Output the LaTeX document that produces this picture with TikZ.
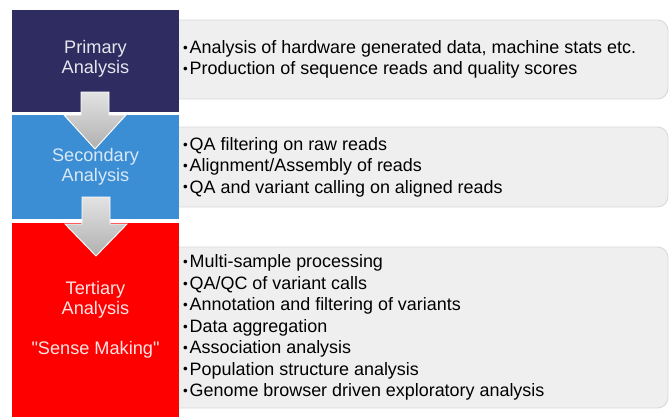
\documentclass[tikz,border=0pt]{standalone}
\usepackage{fontspec}
\setmainfont{Liberation Sans}
\usepackage{graphicx}
\usepackage{tikz}

\definecolor{navy}{HTML}{2E2C60}
\definecolor{skyblue}{HTML}{3B8ED4}
\definecolor{brightred}{HTML}{FE0000}
\definecolor{boxgray}{HTML}{EFEFEF}
\definecolor{boxline}{HTML}{D9D9D9}

\newcommand{\bul}{\raisebox{0.12ex}{\scalebox{0.75}{•}}\hspace{0.1em}}

\tikzset{
  infobox/.style={fill=boxgray, draw=boxline, line width=0.8pt, rounded corners=9pt},
  infotext/.style={anchor=west, align=left, inner sep=0pt, text=black,
    font=\fontsize{15.3}{18.3}\selectfont},
  stagetext/.style={align=center, inner sep=0pt, font=\fontsize{15.5}{17}\selectfont},
  blockarrow/.style={draw=white, line width=0.8pt, top color=gray!22, bottom color=gray!62}
}

\begin{document}
\begin{tikzpicture}[x=0.03cm, y=-0.03cm]
    \useasboundingbox (0,0) rectangle (670,417);

    % grey boxes with the task lists
    \draw[infobox] (160,20) rectangle (668,99);
    \draw[infobox] (160,127) rectangle (668,207);
    \draw[infobox] (160,247) rectangle (668,408);

    % stage column
    \fill[navy] (12,10) rectangle (179,112);
    \fill[skyblue] (12,115) rectangle (179,219);
    \fill[brightred] (12,223) rectangle (179,417);

    \node[stagetext, text=white!88!navy] (prim) at (95.5,59) {Primary\\Analysis};
    \node[stagetext, text=white!80!skyblue] (sec) at (95.5,167) {Secondary\\Analysis};
    \node[stagetext, text=white!90!brightred] (tert) at (95.5,320) {Tertiary\\Analysis\\[\baselineskip]\textquotedbl Sense Making\textquotedbl};

    % arrows between the stages
    \draw[blockarrow] (81,92) -- (109,92) -- (109,115) -- (126,115) -- (95,149) -- (64,115) -- (81,115) -- cycle;
    \draw[blockarrow] (82,197) -- (110,197) -- (110,224) -- (127,224) -- (96,256) -- (65,224) -- (82,224) -- cycle;

    % task lists
    \node[infotext] (primlist) at (183,59.5) {\bul Analysis of hardware generated data, machine stats etc.\\
      \bul Production of sequence reads and quality scores};
    \node[infotext] (seclist) at (183,167) {\bul QA filtering on raw reads\\
      \bul Alignment/Assembly of reads\\
      \bul QA and variant calling on aligned reads};
    \node[infotext] (tertlist) at (183,327.5) {\bul Multi-sample processing\\
      \bul QA/QC of variant calls\\
      \bul Annotation and filtering of variants\\
      \bul Data aggregation\\
      \bul Association analysis\\
      \bul Population structure analysis\\
      \bul Genome browser driven exploratory analysis};
\end{tikzpicture}
\end{document}
